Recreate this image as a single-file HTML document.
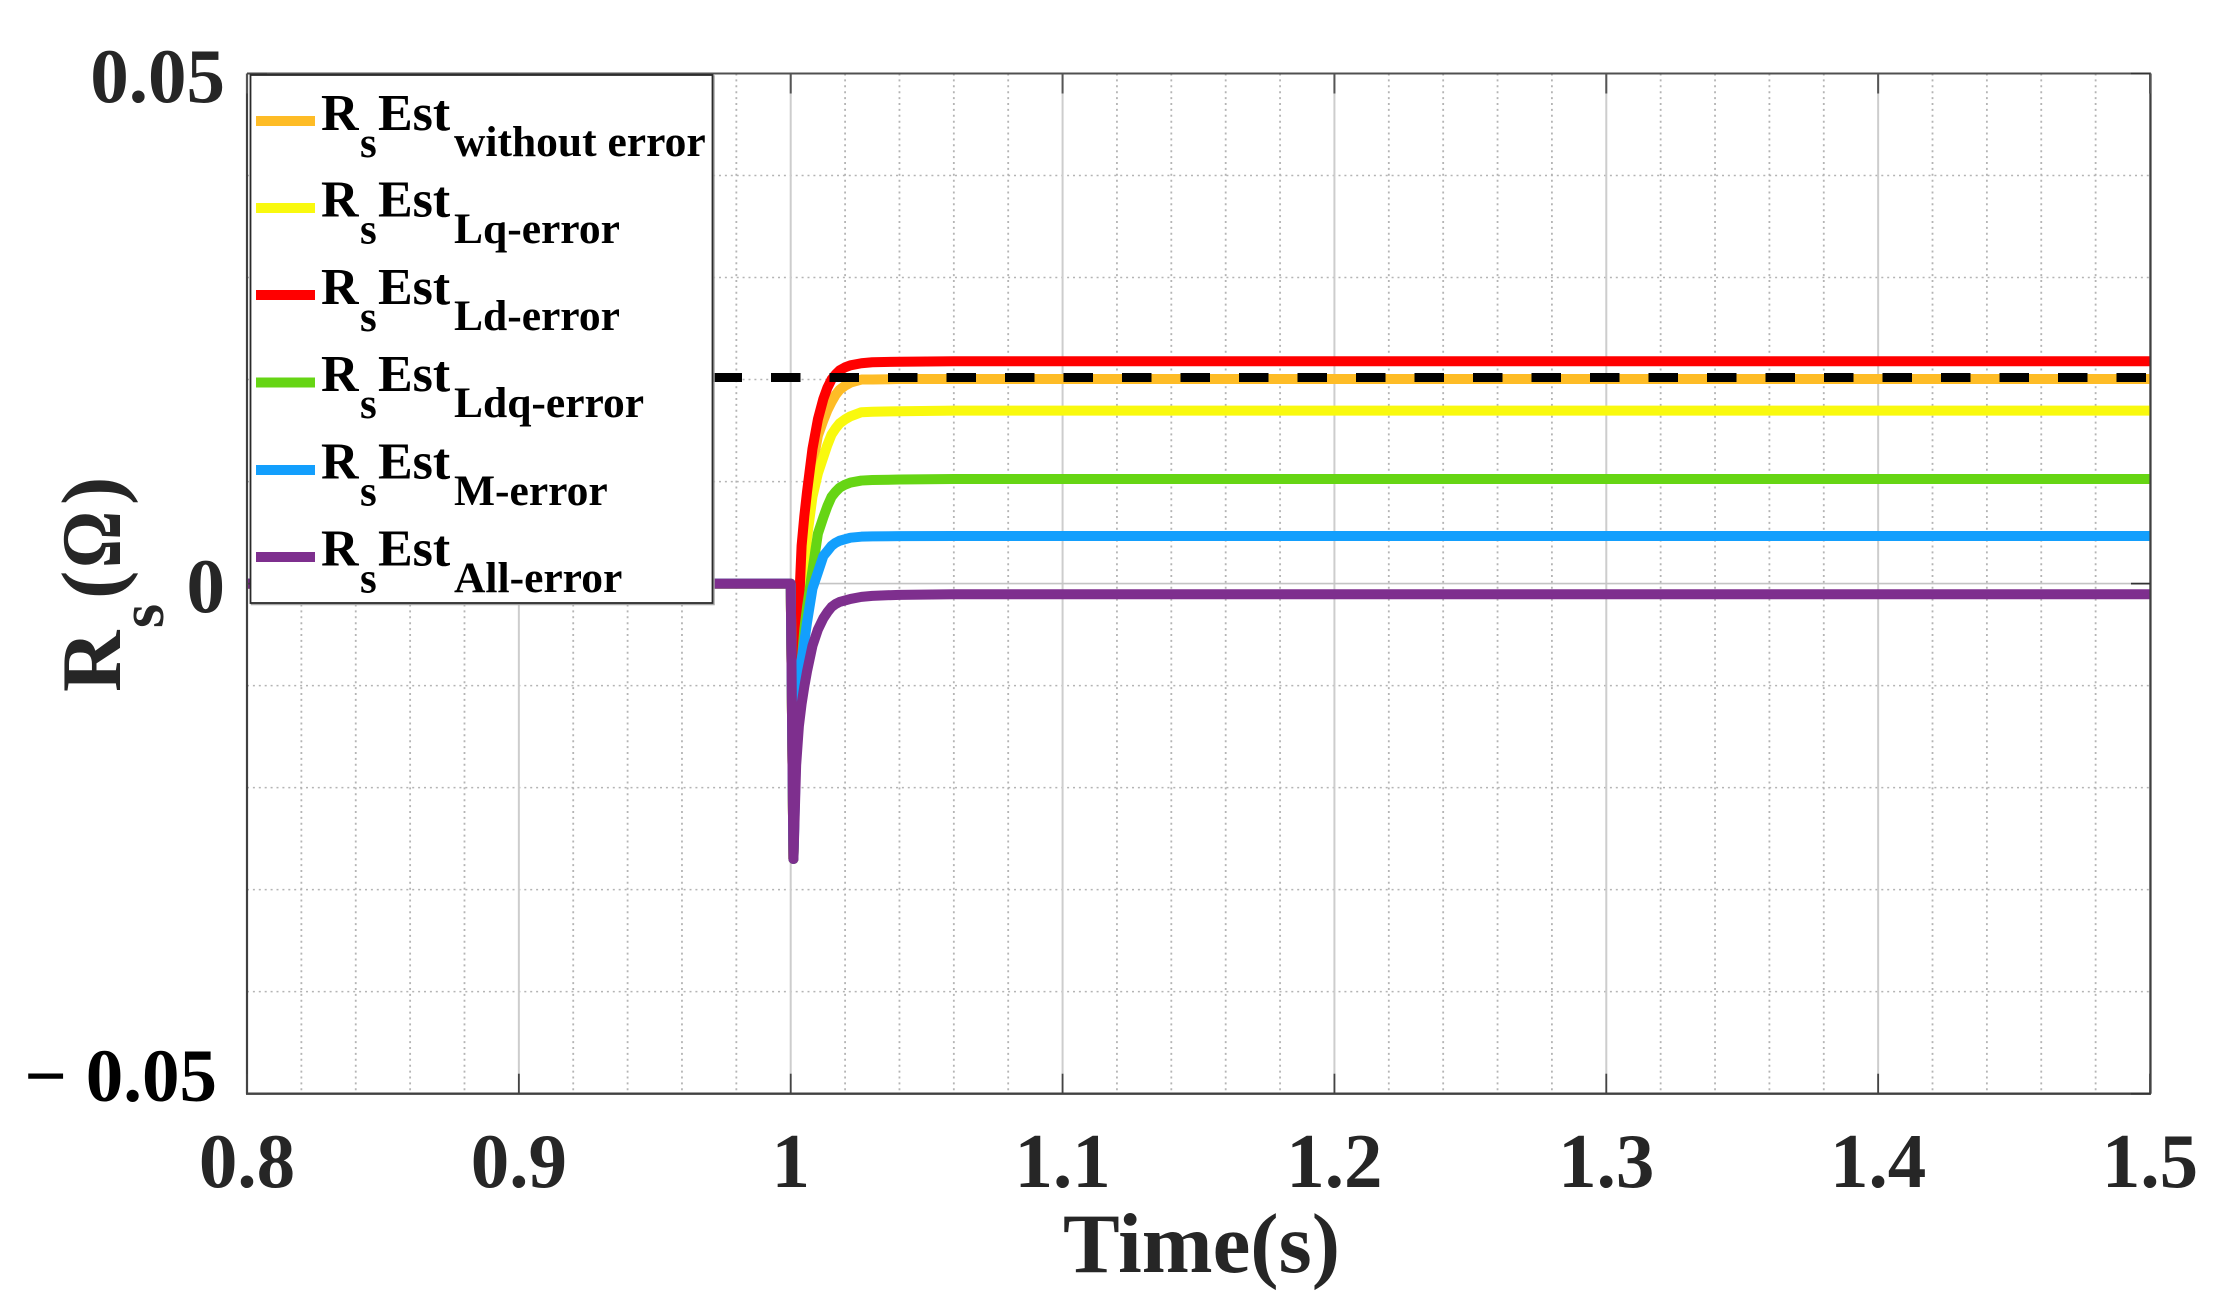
<!DOCTYPE html>
<html lang="en">
<head>
<meta charset="utf-8">
<title>Rs estimation chart</title>
<style>
html,body{margin:0;padding:0;background:#fff;}
svg{display:block;}
text{font-family:"Liberation Serif","DejaVu Serif",serif;font-weight:bold;}
</style>
</head>
<body>
<svg id="chart" xmlns="http://www.w3.org/2000/svg" width="2216" height="1314" viewBox="0 0 2216 1314">
  <defs>
    <clipPath id="plot-clip-wide"><rect x="246" y="73" width="1905.5" height="1021"/></clipPath>
  </defs>
  <g id="grid"></g>
  <g id="series" clip-path="url(#plot-clip-wide)"></g>
  <g id="axes"></g>

  <g>
    <rect x="251.5" y="76" width="462.5" height="528.5" fill="none" stroke="#a8a8a8" stroke-width="1.5"/>
    <rect x="250.5" y="75" width="462" height="528" fill="#fff" stroke="#2a2a2a" stroke-width="1.8"/>

    <g>
      <rect x="256" y="116" width="59" height="10" fill="#FEBC26"/>
      <text x="321" y="130" font-size="52">R</text><text x="360" y="157" font-size="43">s</text><text x="378" y="130" font-size="52">Est</text><text x="454" y="156" font-size="43.5">without error</text>
    </g>
    <g>
      <rect x="256" y="203" width="59" height="10" fill="#F9F90E"/>
      <text x="321" y="216.5" font-size="52">R</text><text x="360" y="243.5" font-size="43">s</text><text x="378" y="216.5" font-size="52">Est</text><text x="454" y="243" font-size="43.5">Lq-error</text>
    </g>
    <g>
      <rect x="256" y="290" width="59" height="10" fill="#FF0000"/>
      <text x="321" y="304" font-size="52">R</text><text x="360" y="331" font-size="43">s</text><text x="378" y="304" font-size="52">Est</text><text x="454" y="330" font-size="43.5">Ld-error</text>
    </g>
    <g>
      <rect x="256" y="377.5" width="59" height="10" fill="#66D514"/>
      <text x="321" y="391" font-size="52">R</text><text x="360" y="418" font-size="43">s</text><text x="378" y="391" font-size="52">Est</text><text x="454" y="417" font-size="43.5">Ldq-error</text>
    </g>
    <g>
      <rect x="256" y="465" width="59" height="10" fill="#139FFD"/>
      <text x="321" y="478.5" font-size="52">R</text><text x="360" y="505.5" font-size="43">s</text><text x="378" y="478.5" font-size="52">Est</text><text x="454" y="505" font-size="43.5">M-error</text>
    </g>
    <g>
      <rect x="256" y="552" width="59" height="10" fill="#7E2F8E"/>
      <text x="321" y="565.5" font-size="52">R</text><text x="360" y="592.5" font-size="43">s</text><text x="378" y="565.5" font-size="52">Est</text><text x="454" y="592" font-size="43.5">All-error</text>
    </g>
  </g>

  <g id="tick-labels" fill="#262626"></g>

  <text x="1063" y="1272" font-size="85" fill="#262626">Time(s)</text>

  <g fill="#262626">
    <text transform="translate(120,692) rotate(-90)" font-size="85">R</text>
    <text transform="translate(163,628) rotate(-90)" font-size="62">s</text>
    <text transform="translate(120,599) rotate(-90)" font-size="85">(</text>
    <text transform="translate(120,568) rotate(-90)" font-size="85" textLength="57" lengthAdjust="spacingAndGlyphs">Ω</text>
    <text transform="translate(120,505) rotate(-90)" font-size="85">)</text>
  </g>
</svg>

<script>
var times = [0.8, 1.0, 1.001, 1.002, 1.003, 1.004, 1.005, 1.006, 1.008, 1.010, 1.012, 1.0135, 1.015, 1.0165, 1.018, 1.02, 1.022, 1.026, 1.03, 1.04, 1.06, 1.5];
var withoutErrorValues = [0, 0, -0.027, -0.011, -0.004, 0.001, 0.0045, 0.0072, 0.0115, 0.0145, 0.0160, 0.0170, 0.0178, 0.0185, 0.0190, 0.0194, 0.0197, 0.0200, 0.0200, 0.02005, 0.02006, 0.02006];
var lqErrorValues = [0, 0, -0.027, -0.013, -0.007, -0.002, 0.0015, 0.0045, 0.0085, 0.0108, 0.0124, 0.0136, 0.0146, 0.0152, 0.0157, 0.0161, 0.0164, 0.0168, 0.01685, 0.0169, 0.01695, 0.01695];
var ldErrorValues = [0, 0, -0.027, -0.0095, -0.0025, 0.0037, 0.0066, 0.0090, 0.0132, 0.0161, 0.0181, 0.0192, 0.0200, 0.0205, 0.0209, 0.0212, 0.0214, 0.0216, 0.0217, 0.02175, 0.0218, 0.0218];
var ldqErrorValues = [0, 0, -0.027, -0.0150, -0.0105, -0.0078, -0.0045, -0.0023, 0.0013, 0.0049, 0.0065, 0.0076, 0.0085, 0.0090, 0.0094, 0.0097, 0.0099, 0.0101, 0.01015, 0.0102, 0.01025, 0.01025];
var mErrorValues = [0, 0, -0.027, -0.0165, -0.0105, -0.0075, -0.0057, -0.0038, -0.0005, 0.0011, 0.0027, 0.0032, 0.0037, 0.0040, 0.0042, 0.00435, 0.0045, 0.0046, 0.00463, 0.00465, 0.00467, 0.00467];
var allErrorValues = [0, 0, -0.027, -0.0178, -0.0140, -0.0118, -0.0101, -0.0086, -0.0061, -0.0045, -0.0034, -0.0028, -0.0023, -0.0020, -0.0018, -0.00165, -0.0015, -0.0013, -0.0012, -0.0011, -0.00105, -0.00105];
var referenceTimes = [0.83, 1.5];
var referenceValues = [0.0202, 0.0202];
var xTickValues = [0.8, 0.9, 1.0, 1.1, 1.2, 1.3, 1.4, 1.5];
var xTickLabels = ['0.8', '0.9', '1', '1.1', '1.2', '1.3', '1.4', '1.5'];
var yTickValues = [0.05, 0, -0.05];
var yTickLabels = ['0.05', '0', '− 0.05'];
var xMinorValues = [0.82, 0.84, 0.86, 0.88, 0.92, 0.94, 0.96, 0.98, 1.02, 1.04, 1.06, 1.08, 1.12, 1.14, 1.16, 1.18, 1.22, 1.24, 1.26, 1.28, 1.32, 1.34, 1.36, 1.38, 1.42, 1.44, 1.46, 1.48];
var yMinorValues = [0.04, 0.03, 0.02, 0.01, -0.01, -0.02, -0.03, -0.04];

var NS = 'http://www.w3.org/2000/svg';
var PLOT = { left: 247, right: 2150, top: 73.5, bottom: 1093.7 };
var X_RANGE = [0.8, 1.5];
var Y_RANGE = [-0.05, 0.05];
var DASH_ORIGIN = 244.5;

function xScale(v) {
  return PLOT.left + (v - X_RANGE[0]) / (X_RANGE[1] - X_RANGE[0]) * (PLOT.right - PLOT.left);
}
function yScale(v) {
  return PLOT.bottom - (v - Y_RANGE[0]) / (Y_RANGE[1] - Y_RANGE[0]) * (PLOT.bottom - PLOT.top);
}
function makeLine(parent, x1, y1, x2, y2, stroke, width, dash) {
  var el = document.createElementNS(NS, 'line');
  el.setAttribute('x1', x1);
  el.setAttribute('y1', y1);
  el.setAttribute('x2', x2);
  el.setAttribute('y2', y2);
  el.setAttribute('stroke', stroke);
  el.setAttribute('stroke-width', width);
  if (dash) el.setAttribute('stroke-dasharray', dash);
  parent.appendChild(el);
  return el;
}

var gridGroup = document.getElementById('grid');
xMinorValues.forEach(function (v) {
  var el = makeLine(gridGroup, xScale(v), PLOT.top, xScale(v), PLOT.bottom, '#b4b4b4', 1.8, '2 3.9');
  
  
});
yMinorValues.forEach(function (v) {
  var el = makeLine(gridGroup, PLOT.left, yScale(v), PLOT.right, yScale(v), '#b4b4b4', 1.5, '2 3.9');
  
  
});
xTickValues.forEach(function (v) {
  var el = makeLine(gridGroup, xScale(v), PLOT.top, xScale(v), PLOT.bottom, '#cdcdcd', 2);
  
  
});
yTickValues.forEach(function (v) {
  var el = makeLine(gridGroup, PLOT.left, yScale(v), PLOT.right, yScale(v), '#c4c4c4', 1.6);
  
  
});

var seriesGroup = document.getElementById('series');
function drawSeries(name, xs, ys, color, width, dash) {
  var pts = xs.map(function (t, i) {
    return xScale(t).toFixed(2) + ',' + yScale(ys[i]).toFixed(2);
  }).join(' ');
  var el = document.createElementNS(NS, 'polyline');
  el.setAttribute('points', pts);
  el.setAttribute('fill', 'none');
  el.setAttribute('stroke', color);
  el.setAttribute('stroke-width', width);
  el.setAttribute('stroke-linejoin', 'round');
  if (dash) {
    el.setAttribute('stroke-dasharray', dash);
    el.setAttribute('stroke-dashoffset', (xScale(xs[0]) - DASH_ORIGIN).toFixed(2));
  } else {
    el.setAttribute('stroke-linecap', 'round');
  }
  
  
  seriesGroup.appendChild(el);
}
drawSeries('series-without-error', times, withoutErrorValues, '#FEBC26', 10);
drawSeries('series-lq-error', times, lqErrorValues, '#F9F90E', 10);
drawSeries('series-ld-error', times, ldErrorValues, '#FF0000', 10);
drawSeries('series-ldq-error', times, ldqErrorValues, '#66D514', 10);
drawSeries('series-m-error', times, mErrorValues, '#139FFD', 10);
drawSeries('series-all-error', times, allErrorValues, '#7E2F8E', 10);
drawSeries('reference-dashed-line', referenceTimes, referenceValues, '#000000', 9, '29.5 29');

var axesGroup = document.getElementById('axes');
var axisColor = '#404040';
var frameBottom = makeLine(axesGroup, PLOT.left - 1, PLOT.bottom, PLOT.right + 1, PLOT.bottom, axisColor, 2.4);


var frameLeft = makeLine(axesGroup, PLOT.left, PLOT.top, PLOT.left, PLOT.bottom, axisColor, 2.2);


var frameTop = makeLine(axesGroup, PLOT.left, PLOT.top, PLOT.right + 1, PLOT.top, '#505050', 2);


var frameRight = makeLine(axesGroup, PLOT.right + 0.5, PLOT.top, PLOT.right + 0.5, PLOT.bottom, axisColor, 2.2);


xTickValues.forEach(function (v) {
  var bottomTick = makeLine(axesGroup, xScale(v), PLOT.bottom, xScale(v), PLOT.bottom - 20, '#444444', 1.8);
  
  
  var topTick = makeLine(axesGroup, xScale(v), PLOT.top, xScale(v), PLOT.top + 20, '#555555', 2);
  
  
});
yTickValues.forEach(function (v) {
  var leftTick = makeLine(axesGroup, PLOT.left, yScale(v), PLOT.left + 20, yScale(v), '#444444', 1.8);
  
  
  var rightTick = makeLine(axesGroup, PLOT.right, yScale(v), PLOT.right - 19, yScale(v), '#333333', 1.8);
  
  
});

var labelsGroup = document.getElementById('tick-labels');
xTickLabels.forEach(function (label, i) {
  var el = document.createElementNS(NS, 'text');
  el.setAttribute('x', xScale(xTickValues[i]));
  el.setAttribute('y', 1187);
  el.setAttribute('font-size', 77);
  el.setAttribute('text-anchor', 'middle');
  
  
  el.textContent = label;
  labelsGroup.appendChild(el);
});
yTickLabels.forEach(function (label, i) {
  var v = yTickValues[i];
  var el = document.createElementNS(NS, 'text');
  el.setAttribute('x', v < 0 ? 217 : 225);
  el.setAttribute('y', yScale(v) + (v < 0 ? 7.5 : 28.5));
  el.setAttribute('font-size', v < 0 ? 75 : 77);
  el.setAttribute('text-anchor', 'end');
  if (v < 0) el.setAttribute('fill', '#000000');
  
  
  el.textContent = label;
  labelsGroup.appendChild(el);
});
</script>
</body>
</html>
